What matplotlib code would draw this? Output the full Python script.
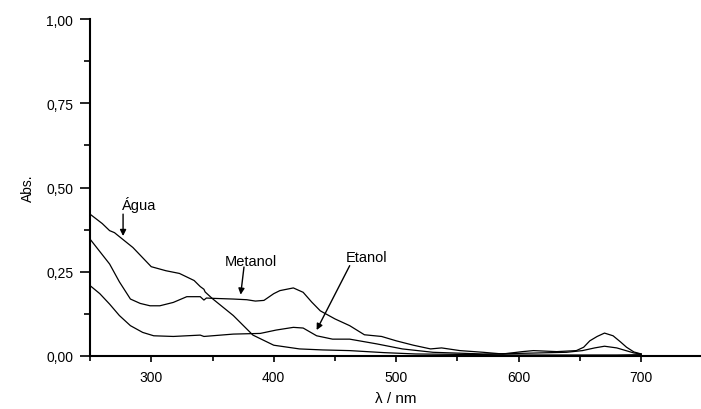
import matplotlib
matplotlib.use("Agg")
import matplotlib.pyplot as plt
from matplotlib.ticker import MultipleLocator, FuncFormatter

plt.rcParams['font.family'] = ['Liberation Sans', 'DejaVu Sans']

# Água
agua_x = [250, 260, 266, 270, 272, 285, 300, 312, 323, 335, 340, 343, 344, 350, 367, 383, 400, 421,
          440, 462, 490, 516, 545, 571, 600, 624, 650, 680, 700]
agua_y = [0.421, 0.393, 0.372, 0.366, 0.36, 0.322, 0.265, 0.253, 0.245, 0.224, 0.206, 0.198, 0.19,
          0.17, 0.12, 0.062, 0.032, 0.021, 0.018, 0.016, 0.01, 0.006, 0.005, 0.004, 0.003, 0.003,
          0.003, 0.003, 0.004]

# Metanol
met_x = [250, 258, 266, 274, 283, 291, 299, 307, 318, 329, 340, 343, 345, 351, 367, 378, 385, 392,
         400, 405, 416, 424, 431, 438, 450, 462, 474, 488, 500, 514, 528, 537, 552, 571, 587,
         603, 612, 631, 647, 653, 658, 664, 670, 677, 683, 688, 694, 700]
met_y = [0.347, 0.31, 0.273, 0.22, 0.169, 0.156, 0.149, 0.149, 0.159, 0.176, 0.176, 0.166, 0.172,
         0.171, 0.169, 0.167, 0.163, 0.165, 0.185, 0.194, 0.202, 0.189, 0.16, 0.134, 0.11, 0.09,
         0.063, 0.058, 0.045, 0.032, 0.021, 0.024, 0.016, 0.011, 0.006, 0.013, 0.016, 0.013,
         0.016, 0.026, 0.045, 0.058, 0.068, 0.06, 0.042, 0.026, 0.012, 0.006]

# Etanol
eta_x = [250, 258, 266, 274, 283, 293, 302, 318, 340, 343, 367, 389, 402, 416, 424, 435, 448, 462,
         484, 505, 530, 571, 603, 639, 652, 662, 670, 680, 694, 700]
eta_y = [0.209, 0.185, 0.154, 0.12, 0.09, 0.07, 0.06, 0.058, 0.062, 0.058, 0.065, 0.067, 0.077,
         0.085, 0.083, 0.06, 0.05, 0.05, 0.036, 0.021, 0.011, 0.006, 0.008, 0.011, 0.016, 0.024,
         0.029, 0.024, 0.009, 0.006]

x_ticks = [300, 400, 500, 600, 700]
y_ticks = [0.00, 0.25, 0.50, 0.75, 1.00]

fig = plt.figure(figsize=(7.01, 4.10), dpi=100)
ax = fig.add_axes([90 / 701, 53 / 410, 612.5 / 701, 337 / 410])
ax.patch.set_alpha(0)

lw = 0.9
ax.plot(agua_x, agua_y, color='black', lw=lw)
ax.plot(met_x, met_y, color='black', lw=lw)
ax.plot(eta_x, eta_y, color='black', lw=lw)

ax.set_xlim(250, 750)
ax.set_ylim(0, 1.0)
ax.set_xticks(x_ticks)
ax.set_yticks(y_ticks)
ax.xaxis.set_minor_locator(MultipleLocator(50))
ax.yaxis.set_minor_locator(MultipleLocator(0.125))
ax.yaxis.set_major_formatter(FuncFormatter(lambda v, p: f"{v:.2f}".replace('.', ',')))

for s in ['top', 'right']:
    ax.spines[s].set_visible(False)
for s in ['left', 'bottom']:
    ax.spines[s].set_linewidth(1.5)

ax.tick_params(axis='y', which='major', direction='out', length=7, width=1.2, labelsize=10, pad=5)
ax.tick_params(axis='y', which='minor', direction='out', length=4.5, width=1.2)
ax.tick_params(axis='x', which='major', direction='out', length=4, width=1.2, labelsize=10, pad=6)
ax.tick_params(axis='x', which='minor', direction='out', length=3.5, width=1.2)

ax.set_ylabel('Abs.', fontsize=10, labelpad=8)
ax.set_xlabel('λ / nm', fontsize=11, labelpad=5)

ap = dict(arrowstyle='-|>', color='black', lw=1.0, mutation_scale=9, shrinkA=0, shrinkB=0)
ax.text(290, 0.451, 'Água', ha='center', va='center', fontsize=10.5)
ax.annotate('', xy=(277, 0.356), xytext=(277, 0.421), arrowprops=ap)
ax.text(381.5, 0.282, 'Metanol', ha='center', va='center', fontsize=10.5)
ax.annotate('', xy=(373, 0.182), xytext=(375.7, 0.264), arrowprops=ap)
ax.text(476, 0.295, 'Etanol', ha='center', va='center', fontsize=10.5)
ax.annotate('', xy=(435, 0.077), xytext=(462, 0.268), arrowprops=ap)

fig.savefig('out.png', dpi=100)
